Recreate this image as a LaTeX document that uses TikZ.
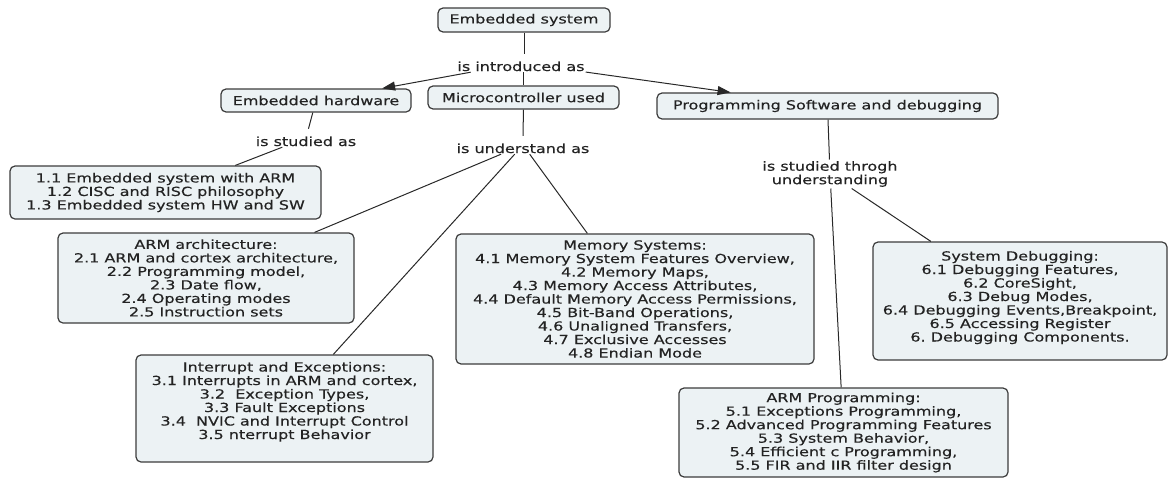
\documentclass[tikz,border=0pt]{standalone}
\usepackage{fontspec}
\setmainfont{DejaVu Sans}[FakeStretch=1.28,FakeBold=0.35]
\usetikzlibrary{arrows.meta,calc}
\definecolor{boxfill}{RGB}{236,242,244}
\definecolor{boxline}{RGB}{60,60,60}
\definecolor{txtcol}{RGB}{35,35,35}
\definecolor{conncol}{RGB}{40,40,40}
\newcommand\topbox[3]{\parbox[c][#1][t]{#2}{\centering #3}}
\frenchspacing
\begin{document}
\begin{tikzpicture}[x=1pt,y=-1pt,
  every node/.style={font=\fontsize{12.5}{13.5}\selectfont\frenchspacing, text=txtcol},
  cbox/.style={draw=boxline, line width=1.2pt, fill=boxfill, rounded corners=5pt, inner sep=0pt},
  lbl/.style={fill=white, inner xsep=1pt, inner ysep=1pt, text height=16pt, text depth=0pt},
  conn/.style={draw=conncol, line width=1pt},
  arr/.style={conn, -{Triangle[length=13pt,width=9pt]}}
]
\useasboundingbox (0,0) rectangle (1169,479);
% concept boxes
\node[cbox, minimum width=172pt, minimum height=24pt] (es) at (524,20) {Embedded system};
\node[cbox, minimum width=190pt, minimum height=23pt] (eh) at (316,100.5) {Embedded hardware};
\node[cbox, minimum width=191pt, minimum height=23pt] (mu) at (523.5,97.5) {Microcontroller used};
\node[cbox, minimum width=341pt, minimum height=26pt] (ps) at (827.5,106) {Programming Software and debugging};
\node[cbox, align=center, minimum width=311pt, minimum height=53pt] (b1) at (165.5,192.5)
  {1.1 Embedded system with ARM\\1.2 CISC and RISC philosophy\\1.3 Embedded system HW and SW};
\node[cbox, align=center, minimum width=296pt, minimum height=90pt] (b2) at (206,278)
  {ARM architecture:\\2.1 ARM and cortex architecture,\\2.2 Programming model,\\2.3 Date flow,\\2.4 Operating modes\\2.5 Instruction sets};
\node[cbox, minimum width=297pt, minimum height=107pt] (b3) at (284.5,408.5)
  {\topbox{107pt}{297pt}{\vspace*{7pt}Interrupt and Exceptions:\\3.1 Interrupts in ARM and cortex,\\3.2~ Exception Types,\\3.3 Fault Exceptions\\3.4~ NVIC and Interrupt Control\\3.5 nterrupt Behavior}};
\node[cbox, align=center, minimum width=358pt, minimum height=130pt] (b4) at (635,299)
  {Memory Systems:\\4.1 Memory System Features Overview,\\4.2 Memory Maps,\\4.3 Memory Access Attributes,\\4.4 Default Memory Access Permissions,\\4.5 Bit-Band Operations,\\4.6 Unaligned Transfers,\\4.7 Exclusive Accesses\\4.8 Endian Mode};
\node[cbox, align=center, minimum width=329pt, minimum height=89pt] (b5) at (843.5,432.5)
  {ARM Programming:\\5.1 Exceptions Programming,\\5.2 Advanced Programming Features\\5.3 System Behavior,\\5.4 Efficient c Programming,\\5.5 FIR and IIR filter design};
\node[cbox, minimum width=294pt, minimum height=118pt] (b6) at (1020,301)
  {\topbox{118pt}{294pt}{\vspace*{9pt}System Debugging:\\6.1 Debugging Features,\\6.2 CoreSight,\\6.3 Debug Modes,\\6.4 Debugging Events,Breakpoint,\\6.5 Accessing Register\\6. Debugging Components.}};
% linking phrases
\node[lbl, anchor=base] (l1) at (521,71) {is introduced as};
\node[lbl, anchor=base] (l2) at (306,146) {is studied as};
\node[lbl, anchor=base] (l3) at (523,153) {is understand as};
\node[fill=white, inner sep=1.5pt, align=center] (l4) at (830,174) {is studied throgh\\understanding};
% connectors
\draw[conn] (es.south) -- (es.south |- l1.north);
\draw[conn] (mu.north |- l1.south) -- (mu.north);
\draw[arr] (l1) -- (eh);
\draw[arr] (l1) -- (ps);
\draw[conn] (eh) -- (l2);
\draw[conn] (l2) -- (b1);
\draw[conn] (mu) -- (l3);
\draw[conn] (l3) -- (b2);
\draw[conn] (l3) -- (b3);
\draw[conn] (l3) -- (b4);
\draw[conn] (ps) -- (l4);
\draw[conn] (l4) -- (b5);
\draw[conn] (l4) -- (b6);
\end{tikzpicture}
\end{document}
